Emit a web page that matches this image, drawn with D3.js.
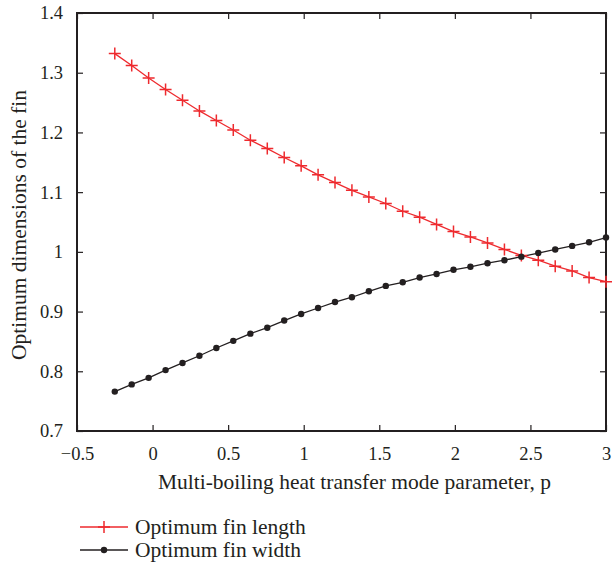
<!DOCTYPE html>
<html>
<head>
  <script src="https://d3js.org/d3.v7.min.js"></script>
  <style>
    body { margin: 0; background: #fff; }
    text { font-family: "Liberation Serif", "DejaVu Serif", serif; fill: #231f20; }
  </style>
</head>
<body>
  <svg width="612" height="565"></svg>
  <script>
    const width = 612, height = 565;

    // boiling parameter p (30 points from -0.25 to 3)
    const pValues = [-0.25, -0.138, -0.026, 0.086, 0.198, 0.310, 0.422, 0.534, 0.647, 0.759,
                     0.871, 0.983, 1.095, 1.207, 1.319, 1.431, 1.543, 1.655, 1.767, 1.879,
                     1.991, 2.103, 2.216, 2.328, 2.440, 2.552, 2.664, 2.776, 2.888, 3.0];
    const finLength = [1.332, 1.312, 1.291, 1.272, 1.254, 1.236, 1.220, 1.204, 1.187, 1.173,
                       1.158, 1.144, 1.129, 1.116, 1.103, 1.092, 1.081, 1.068, 1.058, 1.046,
                       1.034, 1.025, 1.015, 1.004, 0.994, 0.986, 0.976, 0.968, 0.957, 0.950];
    const finWidth = [0.766, 0.778, 0.789, 0.802, 0.814, 0.826, 0.839, 0.851, 0.863, 0.873,
                      0.885, 0.896, 0.906, 0.916, 0.924, 0.934, 0.943, 0.949, 0.957, 0.963,
                      0.970, 0.975, 0.981, 0.986, 0.992, 0.998, 1.004, 1.010, 1.016, 1.024];
    const xTicks = [-0.5, 0, 0.5, 1, 1.5, 2, 2.5, 3];
    const yTicks = [0.7, 0.8, 0.9, 1, 1.1, 1.2, 1.3, 1.4];
    const seriesNames = ["Optimum fin length", "Optimum fin width"];

    const margin = { left: 77, top: 13, right: 6, bottom: 134 };
    const x0 = margin.left, x1 = width - margin.right;
    const y0 = height - margin.bottom, y1 = margin.top;

    const svg = d3.select("svg");
    const x = d3.scaleLinear().domain([-0.5, 3]).range([x0, x1]);
    const y = d3.scaleLinear().domain([0.7, 1.4]).range([y0, y1]);

    const fmt = d => d < 0 ? "\u22120.5" : String(d);
    const tick = 6;

    // axes with inward ticks, mirrored on top and right
    const gb = svg.append("g").attr("transform", `translate(0,${y0})`)
      .call(d3.axisBottom(x).tickValues(xTicks).tickFormat(fmt).tickSize(-tick).tickPadding(16));
    const gt = svg.append("g").attr("transform", `translate(0,${y1})`)
      .call(d3.axisTop(x).tickValues(xTicks).tickFormat("").tickSize(-tick));
    const gl = svg.append("g").attr("transform", `translate(${x0},0)`)
      .call(d3.axisLeft(y).tickValues(yTicks).tickFormat(d3.format("")).tickSize(-tick).tickPadding(14));
    const gr = svg.append("g").attr("transform", `translate(${x1},0)`)
      .call(d3.axisRight(y).tickValues(yTicks).tickFormat("").tickSize(-tick));

    [gb, gt, gl, gr].forEach(g => {
      g.select(".domain").remove();
      g.selectAll("line").attr("stroke", "#231f20").attr("stroke-width", 1.2);
      g.selectAll("text").attr("font-size", 18.5).attr("fill", "#231f20")
        .style("font-family", '"Liberation Serif", serif');
    });
    gb.selectAll("text").attr("dy", "0.71em");

    svg.append("rect")
      .attr("x", x0).attr("y", y1).attr("width", x1 - x0).attr("height", y0 - y1)
      .attr("fill", "none").attr("stroke", "#231f20").attr("stroke-width", 2);

    const line = d3.line().x(d => x(d[0])).y(d => y(d[1]));
    const lenData = pValues.map((p, i) => [p, finLength[i]]);
    const widData = pValues.map((p, i) => [p, finWidth[i]]);
    const red = "#ee2a2e", black = "#231f20";

    svg.append("path").datum(lenData).attr("d", line)
      .attr("fill", "none").attr("stroke", red).attr("stroke-width", 1.3);
    svg.append("path").datum(widData).attr("d", line)
      .attr("fill", "none").attr("stroke", black).attr("stroke-width", 1.3);

    function plusPath(cx, cy, s) {
      return `M${cx - s},${cy}H${cx + s}M${cx},${cy - s}V${cy + s}`;
    }
    svg.append("g").selectAll("path").data(lenData).enter().append("path")
      .attr("d", d => plusPath(x(d[0]), y(d[1]), 6))
      .attr("stroke", red).attr("stroke-width", 1.5).attr("fill", "none");
    svg.append("g").selectAll("circle").data(widData).enter().append("circle")
      .attr("cx", d => x(d[0])).attr("cy", d => y(d[1])).attr("r", 3.2)
      .attr("fill", black);

    // axis titles
    svg.append("text")
      .attr("x", (x0 + x1) / 2 + 13).attr("y", 489)
      .attr("text-anchor", "middle").attr("font-size", 21.5)
      .text("Multi-boiling heat transfer mode parameter, p");
    svg.append("text")
      .attr("transform", `translate(26,${(y0 + y1) / 2 + 3}) rotate(-90)`)
      .attr("text-anchor", "middle").attr("font-size", 21.5)
      .text("Optimum dimensions of the fin");

    // legend
    const legend = svg.append("g");
    const legY = [527, 550];
    legend.append("line").attr("x1", 80).attr("x2", 128).attr("y1", legY[0]).attr("y2", legY[0])
      .attr("stroke", red).attr("stroke-width", 1.3);
    legend.append("path").attr("d", plusPath(104, legY[0], 6))
      .attr("stroke", red).attr("stroke-width", 1.5);
    legend.append("line").attr("x1", 80).attr("x2", 128).attr("y1", legY[1]).attr("y2", legY[1])
      .attr("stroke", black).attr("stroke-width", 1.3);
    legend.append("circle").attr("cx", 104).attr("cy", legY[1]).attr("r", 3.2).attr("fill", black);
    seriesNames.forEach((n, i) => {
      legend.append("text").attr("x", 135).attr("y", legY[i]).attr("dy", "0.33em")
        .attr("font-size", 21.5).text(n);
    });
  </script>
</body>
</html>
